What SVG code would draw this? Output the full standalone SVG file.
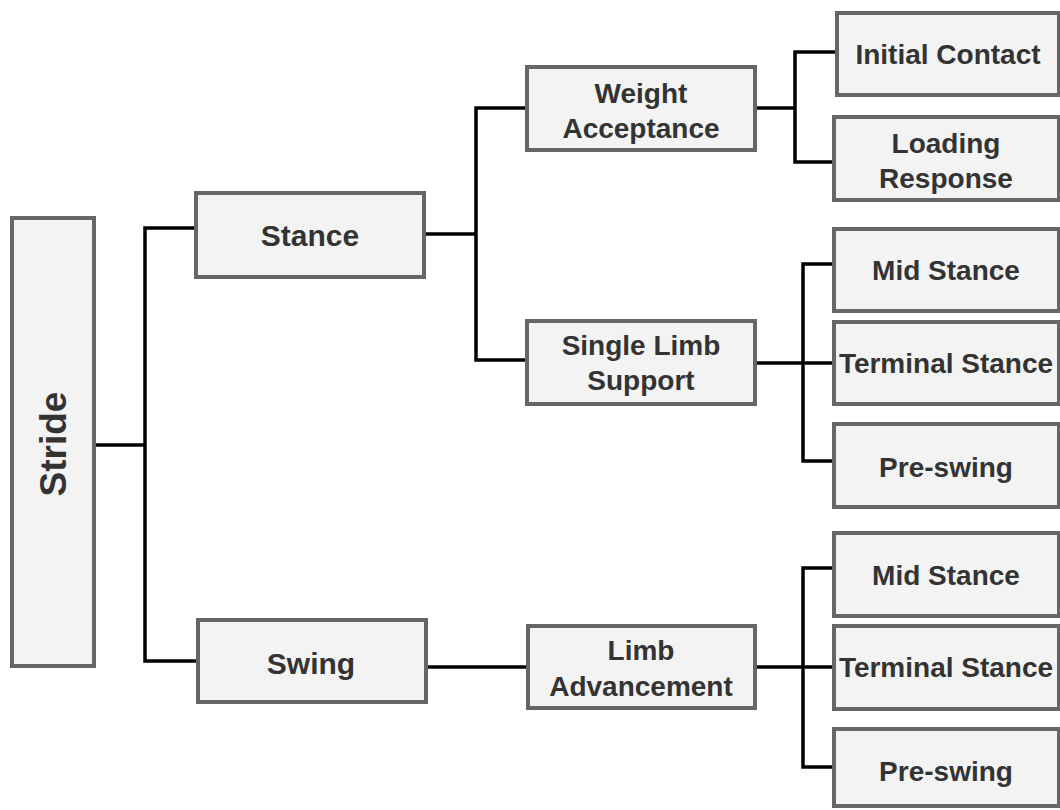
<svg xmlns="http://www.w3.org/2000/svg" width="1060" height="810" viewBox="0 0 1060 810">
  <style>
    .box { fill: #f3f3f3; stroke: #666666; stroke-width: 4; }
    .lbl { font-family: "Liberation Sans", Arial, sans-serif; font-weight: bold; font-size: 28px; fill: #333333; text-anchor: middle; }
    .big { font-size: 30px; }
    .root { font-size: 37px; }
    .wire { fill: none; stroke: #000000; stroke-width: 3.5; stroke-linejoin: miter; }
  </style>
  <rect x="0" y="0" width="1060" height="810" fill="#ffffff"/>

  <!-- connectors -->
  <g id="connectors" class="wire">
    <path d="M94,445 H145"/>
    <path d="M198,228 H145 V661 H198"/>
    <path d="M424,234 H476"/>
    <path d="M527,108 H476 V360 H527"/>
    <path d="M755,108 H795"/>
    <path d="M837,52 H795 V162 H834"/>
    <path d="M755,363 H834"/>
    <path d="M834,264 H803 V461 H834"/>
    <path d="M426,667 H528"/>
    <path d="M755,667 H834"/>
    <path d="M834,568 H803 V767 H834"/>
  </g>

  <!-- root -->
  <g id="stride">
    <rect class="box" x="12" y="218" width="82" height="448"/>
    <text class="lbl root" transform="translate(53,444) rotate(-90)" dy="0.35em">Stride</text>
  </g>

  <!-- phases -->
  <g id="stance">
    <rect class="box" x="196" y="193" width="228" height="84"/>
    <text class="lbl big" x="310" y="235" dy="0.35em">Stance</text>
  </g>
  <g id="swing">
    <rect class="box" x="198" y="620" width="228" height="82"/>
    <text class="lbl big" x="311" y="663" dy="0.35em">Swing</text>
  </g>

  <!-- tasks -->
  <g id="weight-acceptance">
    <rect class="box" x="527" y="67" width="228" height="83"/>
    <text class="lbl" x="641" y="93" dy="0.35em">Weight</text>
    <text class="lbl" x="641" y="128" dy="0.35em">Acceptance</text>
  </g>
  <g id="single-limb-support">
    <rect class="box" x="527" y="321" width="228" height="83"/>
    <text class="lbl" x="641" y="345" dy="0.35em">Single Limb</text>
    <text class="lbl" x="641" y="380" dy="0.35em">Support</text>
  </g>
  <g id="limb-advancement">
    <rect class="box" x="528" y="626" width="227" height="82"/>
    <text class="lbl" x="641" y="650" dy="0.35em">Limb</text>
    <text class="lbl" x="641" y="686" dy="0.35em">Advancement</text>
  </g>

  <!-- sub-phases -->
  <g id="initial-contact">
    <rect class="box" x="837" y="13" width="222" height="82"/>
    <text class="lbl" x="948" y="54" dy="0.35em">Initial Contact</text>
  </g>
  <g id="loading-response">
    <rect class="box" x="834" y="117" width="225" height="83"/>
    <text class="lbl" x="946" y="143" dy="0.35em">Loading</text>
    <text class="lbl" x="946" y="178" dy="0.35em">Response</text>
  </g>
  <g id="mid-stance-1">
    <rect class="box" x="834" y="229" width="225" height="82"/>
    <text class="lbl" x="946" y="270" dy="0.35em">Mid Stance</text>
  </g>
  <g id="terminal-stance-1">
    <rect class="box" x="834" y="322" width="225" height="82"/>
    <text class="lbl" x="946" y="363" dy="0.35em">Terminal Stance</text>
  </g>
  <g id="pre-swing-1">
    <rect class="box" x="834" y="424" width="225" height="83"/>
    <text class="lbl" x="946" y="467" dy="0.35em">Pre-swing</text>
  </g>
  <g id="mid-stance-2">
    <rect class="box" x="834" y="533" width="225" height="83"/>
    <text class="lbl" x="946" y="575" dy="0.35em">Mid Stance</text>
  </g>
  <g id="terminal-stance-2">
    <rect class="box" x="834" y="626" width="225" height="83"/>
    <text class="lbl" x="946" y="667" dy="0.35em">Terminal Stance</text>
  </g>
  <g id="pre-swing-2">
    <rect class="box" x="834" y="729" width="225" height="77"/>
    <text class="lbl" x="946" y="771" dy="0.35em">Pre-swing</text>
  </g>
</svg>
